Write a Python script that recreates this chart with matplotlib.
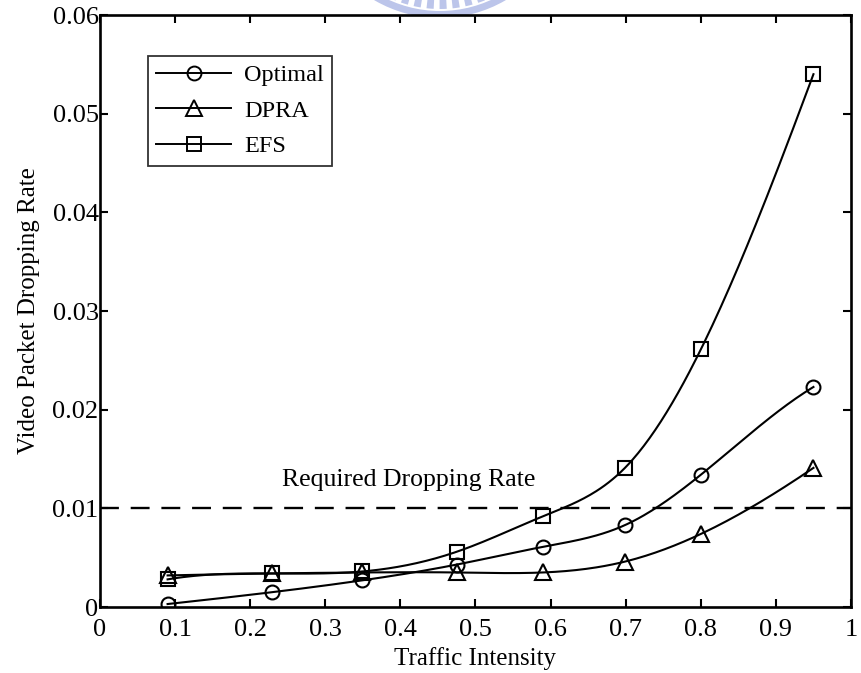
import numpy as np
import matplotlib
matplotlib.use("Agg")
import matplotlib.pyplot as plt
from matplotlib.patches import Wedge

plt.rcParams['font.family'] = ['Liberation Serif', 'DejaVu Serif']

# Traffic intensity levels
traffic = [0.09, 0.229, 0.349, 0.475, 0.59, 0.699, 0.80, 0.95]

# Video packet dropping rate per scheme
optimal = [0.0003, 0.0015, 0.0027, 0.0043, 0.0061, 0.0083, 0.0134, 0.0223]
dpra = [0.0032, 0.0034, 0.0035, 0.0035, 0.0035, 0.0046, 0.0074, 0.0141]
efs = [0.0028, 0.0034, 0.0036, 0.0056, 0.0092, 0.0141, 0.0261, 0.0540]

required_rate = 0.01

x_ticks = [0, 0.1, 0.2, 0.3, 0.4, 0.5, 0.6, 0.7, 0.8, 0.9, 1]
x_tick_labels = ['0', '0.1', '0.2', '0.3', '0.4', '0.5', '0.6', '0.7', '0.8', '0.9', '1']
y_ticks = [0, 0.01, 0.02, 0.03, 0.04, 0.05, 0.06]
y_tick_labels = ['0', '0.01', '0.02', '0.03', '0.04', '0.05', '0.06']


def spline_curve(x, y, n=40):
    """Not-a-knot cubic spline through the given points, for drawing the line."""
    x = np.asarray(x, float)
    y = np.asarray(y, float)
    N = len(x)
    h = np.diff(x)
    d = np.diff(y) / h
    A = np.zeros((N, N))
    b = np.zeros(N)
    # not-a-knot end conditions on second derivatives M
    A[0, 0], A[0, 1], A[0, 2] = h[1], -(h[0] + h[1]), h[0]
    A[-1, -3], A[-1, -2], A[-1, -1] = h[-1], -(h[-2] + h[-1]), h[-2]
    for i in range(1, N - 1):
        A[i, i - 1] = h[i - 1]
        A[i, i] = 2 * (h[i - 1] + h[i])
        A[i, i + 1] = h[i]
        b[i] = 6 * (d[i] - d[i - 1])
    M = np.linalg.solve(A, b)
    xs, ys = [], []
    for k in range(N - 1):
        t = np.linspace(x[k], x[k + 1], n, endpoint=(k == N - 2))
        a = x[k + 1] - t
        c = t - x[k]
        s = (M[k] * a**3 + M[k + 1] * c**3) / (6 * h[k]) \
            + (y[k] / h[k] - M[k] * h[k] / 6) * a \
            + (y[k + 1] / h[k] - M[k + 1] * h[k] / 6) * c
        xs.append(t)
        ys.append(s)
    return np.concatenate(xs), np.concatenate(ys)


fig = plt.figure(figsize=(8.62, 6.73), dpi=100)

# faint emblem peeking in at the top edge
bg = fig.add_axes([0, 0, 1, 1], zorder=-5)
bg.set_xlim(0, 862)
bg.set_ylim(673, 0)
bg.set_aspect('equal')
bg.axis('off')
cx0, cy0 = 440, -112
emblem = '#bcc5ea'
bg.add_patch(Wedge((cx0, cy0), 130, 30, 150, width=7, color=emblem, lw=0))
for ang in np.arange(31, 150, 6.2):
    bg.add_patch(Wedge((cx0, cy0), 121, ang, ang + 3.4, width=20, color=emblem, lw=0))

ax = fig.add_axes([100 / 862, (673 - 607) / 673, 751 / 862, 592 / 673])

series = [("Optimal", optimal, 'o', 10), ("DPRA", dpra, '^', 11.5), ("EFS", efs, 's', 10)]
handles = []
for name, vals, mk, ms in series:
    cx, cy = spline_curve(traffic, vals)
    ax.plot(cx, cy, color='black', lw=1.5)
    ax.plot(traffic, vals, linestyle='none', marker=mk, markersize=ms,
            markerfacecolor='none', markeredgecolor='black', markeredgewidth=1.5)
    h, = ax.plot([], [], color='black', lw=1.4, marker=mk, markersize=ms,
                 markerfacecolor='none', markeredgecolor='black', markeredgewidth=1.4,
                 label=name)
    handles.append(h)

ax.axhline(required_rate, color='black', lw=1.7, dashes=(8, 5))
ax.text(0.243, 0.0129, "Required Dropping Rate", fontsize=18.5, va='center', ha='left')

ax.set_xlim(0, 1)
ax.set_ylim(0, 0.06)
ax.set_xticks(x_ticks)
ax.set_xticklabels(x_tick_labels)
ax.set_yticks(y_ticks)
ax.set_yticklabels(y_tick_labels)
ax.tick_params(direction='in', length=6, width=1.5, top=True, right=True,
               labelsize=19)
ax.tick_params(axis='x', pad=9)
ax.tick_params(axis='y', pad=1)
for s in ax.spines.values():
    s.set_linewidth(1.9)

ax.set_xlabel("Traffic Intensity", fontsize=18, labelpad=4)
ax.set_ylabel("Video Packet Dropping Rate", fontsize=18, labelpad=9)

leg = ax.legend(handles=handles, loc='upper left', bbox_to_anchor=(0.0639, 0.931),
                fontsize=17.5, frameon=True, fancybox=False, edgecolor='black',
                handlelength=3.05, handletextpad=0.55, borderpad=0.35,
                labelspacing=0.55, borderaxespad=0)
leg.get_frame().set_linewidth(1.3)

fig.savefig("out.png", dpi=100)
